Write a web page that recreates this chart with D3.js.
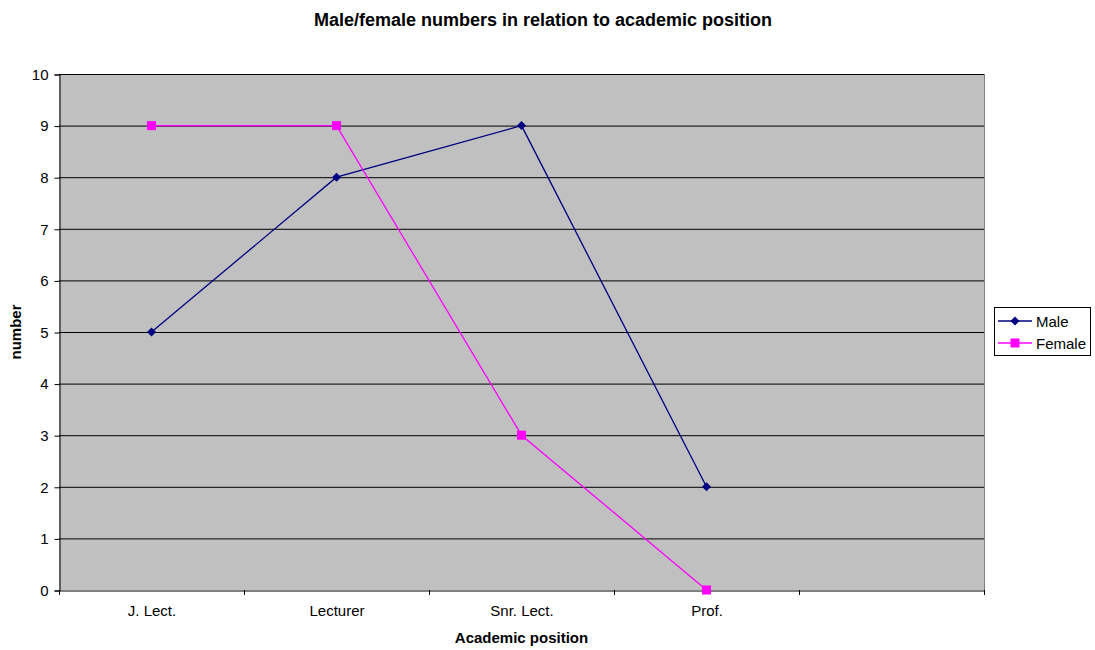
<!DOCTYPE html>
<html><head><meta charset="utf-8">
<script src="https://cdn.jsdelivr.net/npm/d3@7"></script>
<style>body{margin:0;background:#fff;font-family:Arial,"Liberation Sans",sans-serif}</style>
</head><body><svg id="c" width="1095" height="650"></svg>
<script>
const categories = ["J. Lect.", "Lecturer", "Snr. Lect.", "Prof.", ""];
const maleValues = [5, 8, 9, 2];
const femaleValues = [9, 9, 3, 0];
const yTicks = [0,1,2,3,4,5,6,7,8,9,10];
const seriesNames = ["Male", "Female"];
const seriesColors = ["#000080", "#FF00FF"];

const svg = d3.select("#c");
const font = "Arial, 'Liberation Sans', sans-serif";
const L = 59, R = 984, T = 74, B = 590;
const x = d3.scaleBand().domain(categories.map((c,i)=>i)).range([L, R]);
const y = d3.scaleLinear().domain([0,10]).range([B, T]);

svg.append("rect").attr("x",L).attr("y",T).attr("width",R-L).attr("height",B-T).attr("fill","#C0C0C0");
svg.append("line").attr("x1",R+0.5).attr("x2",R+0.5).attr("y1",T).attr("y2",B).attr("stroke","#808080");

// gridlines
svg.append("g").selectAll("line").data(yTicks.filter(d=>d>0)).join("line")
  .attr("x1",L).attr("x2",R).attr("y1",d=>y(d)+0.5).attr("y2",d=>y(d)+0.5)
  .attr("stroke","#000").attr("stroke-width",1);

// y axis
const ya = svg.append("g").attr("transform",`translate(${L+0.5},0.5)`)
  .call(d3.axisLeft(y).tickValues(yTicks).tickSize(5).tickPadding(6).tickFormat(d3.format("d")));
ya.select(".domain").attr("stroke","#000");
ya.selectAll("text").attr("font-size",15).attr("font-family",font).attr("fill","#000");

// x axis
const xa = svg.append("g").attr("transform",`translate(0.5,${B+0.5})`)
  .call(d3.axisBottom(x).tickSize(0).tickPadding(15).tickFormat(i=>categories[i]));
xa.select(".domain").attr("stroke","#000");
xa.selectAll("text").attr("font-size",15).attr("font-family",font).attr("fill","#000");
svg.append("g").selectAll("line").data(d3.range(categories.length+1)).join("line")
  .attr("x1",i=>L+i*x.step()+0.5).attr("x2",i=>L+i*x.step()+0.5)
  .attr("y1",B).attr("y2",B+5).attr("stroke","#000");

const cx = i => x(i) + x.bandwidth()/2;
const line = d3.line().x((d,i)=>cx(i)).y(d=>y(d));

svg.append("path").datum(maleValues).attr("d",line).attr("fill","none").attr("stroke",seriesColors[0]).attr("stroke-width",1.3);
svg.append("path").datum(femaleValues).attr("d",line).attr("fill","none").attr("stroke",seriesColors[1]).attr("stroke-width",1.3);

const diamond = "M0,-4.5L4.5,0L0,4.5L-4.5,0Z";
svg.append("g").selectAll("path").data(maleValues).join("path")
  .attr("d",diamond).attr("transform",(d,i)=>`translate(${cx(i)},${y(d)})`).attr("fill",seriesColors[0]);
svg.append("g").selectAll("rect").data(femaleValues).join("rect")
  .attr("x",(d,i)=>cx(i)-4.5).attr("y",d=>y(d)-4.5).attr("width",9).attr("height",9).attr("fill",seriesColors[1]);

// title
svg.append("text").attr("x",543).attr("y",26).attr("text-anchor","middle").attr("font-size",18).attr("font-weight","bold").attr("font-family",font).text("Male/female numbers in relation to academic position");
svg.append("text").attr("x",(L+R)/2).attr("y",643).attr("text-anchor","middle").attr("font-size",15).attr("font-weight","bold").attr("font-family",font).text("Academic position");
svg.append("text").attr("transform",`translate(21,${(T+B)/2}) rotate(-90)`).attr("text-anchor","middle").attr("font-size",15).attr("font-weight","bold").attr("font-family",font).text("number");

// legend
const lg = svg.append("g");
lg.append("rect").attr("x",994.5).attr("y",307.5).attr("width",96).attr("height",48).attr("fill","#fff").attr("stroke","#000");
seriesNames.forEach((n,i)=>{
  const yy = 321 + i*22;
  lg.append("line").attr("x1",998).attr("x2",1032).attr("y1",yy).attr("y2",yy).attr("stroke",seriesColors[i]).attr("stroke-width",1.3);
  if(i===0) lg.append("path").attr("d",diamond).attr("transform",`translate(1015,${yy})`).attr("fill",seriesColors[i]);
  else lg.append("rect").attr("x",1010.5).attr("y",yy-4.5).attr("width",9).attr("height",9).attr("fill",seriesColors[i]);
  lg.append("text").attr("x",1036).attr("y",yy+5.5).attr("font-size",15).attr("font-family",font).text(n);
});
</script></body></html>
